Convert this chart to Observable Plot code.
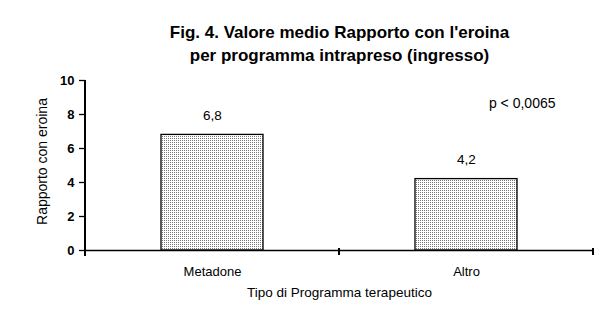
<!DOCTYPE html>
<html>
<head>
<meta charset="utf-8">
<script src="https://cdn.jsdelivr.net/npm/d3@7"></script>
<script src="https://cdn.jsdelivr.net/npm/@observablehq/plot@0.6"></script>
<style>
  html, body { margin: 0; padding: 0; background: white; }
</style>
</head>
<body>
<div id="chart"></div>
<script>
const categories = ["Metadone", "Altro"];
const values = [6.8, 4.2];
const valueLabels = ["6,8", "4,2"];
const yTicks = [0, 2, 4, 6, 8, 10];
const titleLines = ["Fig. 4. Valore medio Rapporto con l'eroina", "per programma intrapreso (ingresso)"];
const yLabel = "Rapporto con eroina";
const xLabel = "Tipo di Programma terapeutico";
const pText = "p < 0,0065";

const data = categories.map((c, i) => ({cat: c, v: values[i], label: valueLabels[i]}));
const font = "Arial, 'Liberation Sans', sans-serif";

const plot = Plot.plot({
  width: 607,
  height: 313,
  marginLeft: 85,
  marginRight: 14,
  marginTop: 80,
  marginBottom: 63,
  style: {fontFamily: font, fontSize: "12px", color: "black", background: "white"},
  x: {domain: categories, paddingInner: 0.6, paddingOuter: 0.3, label: null},
  y: {domain: [0, 10], ticks: yTicks, label: null},
  marks: [
    Plot.barY(data, {x: "cat", y: "v", fill: "url(#dots)", stroke: "black", strokeWidth: 1.3}),
    Plot.text(data, {x: "cat", y: "v", text: "label", dy: -19, fontSize: 13.5, fill: "black"}),
    Plot.axisY({ticks: yTicks, tickSize: 6, tickPadding: 5, fontWeight: "bold", fontSize: 13, label: null, stroke: "black", strokeWidth: 1.3}),
    Plot.axisX({tickSize: 0, tickPadding: 16, fontSize: 13, label: null}),
    Plot.ruleY([0], {stroke: "black", strokeWidth: 1.3}),
    Plot.text([titleLines[0]], {frameAnchor: "top", lineAnchor: "middle", dy: -48, fontWeight: "bold", fontSize: 17, text: d => d}),
    Plot.text([titleLines[1]], {frameAnchor: "top", lineAnchor: "middle", dy: -25, fontWeight: "bold", fontSize: 17, text: d => d}),
    Plot.text([yLabel], {frameAnchor: "left", textAnchor: "middle", lineAnchor: "middle", rotate: -90, dx: -43, dy: -4, fontSize: 14, text: d => d}),
    Plot.text([xLabel], {frameAnchor: "bottom", lineAnchor: "middle", dy: 42, fontSize: 13.5, text: d => d}),
    Plot.text([pText], {frameAnchor: "top-right", textAnchor: "end", lineAnchor: "middle", dx: -38, dy: 23, fontSize: 14, text: d => d})
  ]
});

const svg = d3.select(plot);
// dotted fill pattern
const defs = svg.insert("defs", ":first-child");
const pat = defs.append("pattern").attr("id", "dots").attr("patternUnits", "userSpaceOnUse")
  .attr("width", 2).attr("height", 2);
pat.append("rect").attr("width", 2).attr("height", 2).attr("fill", "white");
pat.append("rect").attr("width", 1).attr("height", 1).attr("fill", "#7a7a7a");

// axis lines and category boundary ticks from the library's scales
const xs = plot.scale("x");
const ys = plot.scale("y");
const y0 = ys.apply(0), y10 = ys.apply(10);
const g = svg.append("g").attr("stroke", "black").attr("stroke-width", 1.3).attr("shape-rendering", "crispEdges");
g.append("line").attr("x1", xs.range[0]).attr("x2", xs.range[0]).attr("y1", y10).attr("y2", y0 + 6);
const bounds = categories.map((c, i) => i < categories.length - 1
  ? xs.apply(c) + (xs.step + xs.bandwidth) / 2
  : xs.range[1]);
bounds.forEach(bx => {
  g.append("line").attr("x1", bx).attr("x2", bx).attr("y1", y0 - 2).attr("y2", y0 + 5);
});

document.getElementById("chart").appendChild(plot);
</script>
</body>
</html>
